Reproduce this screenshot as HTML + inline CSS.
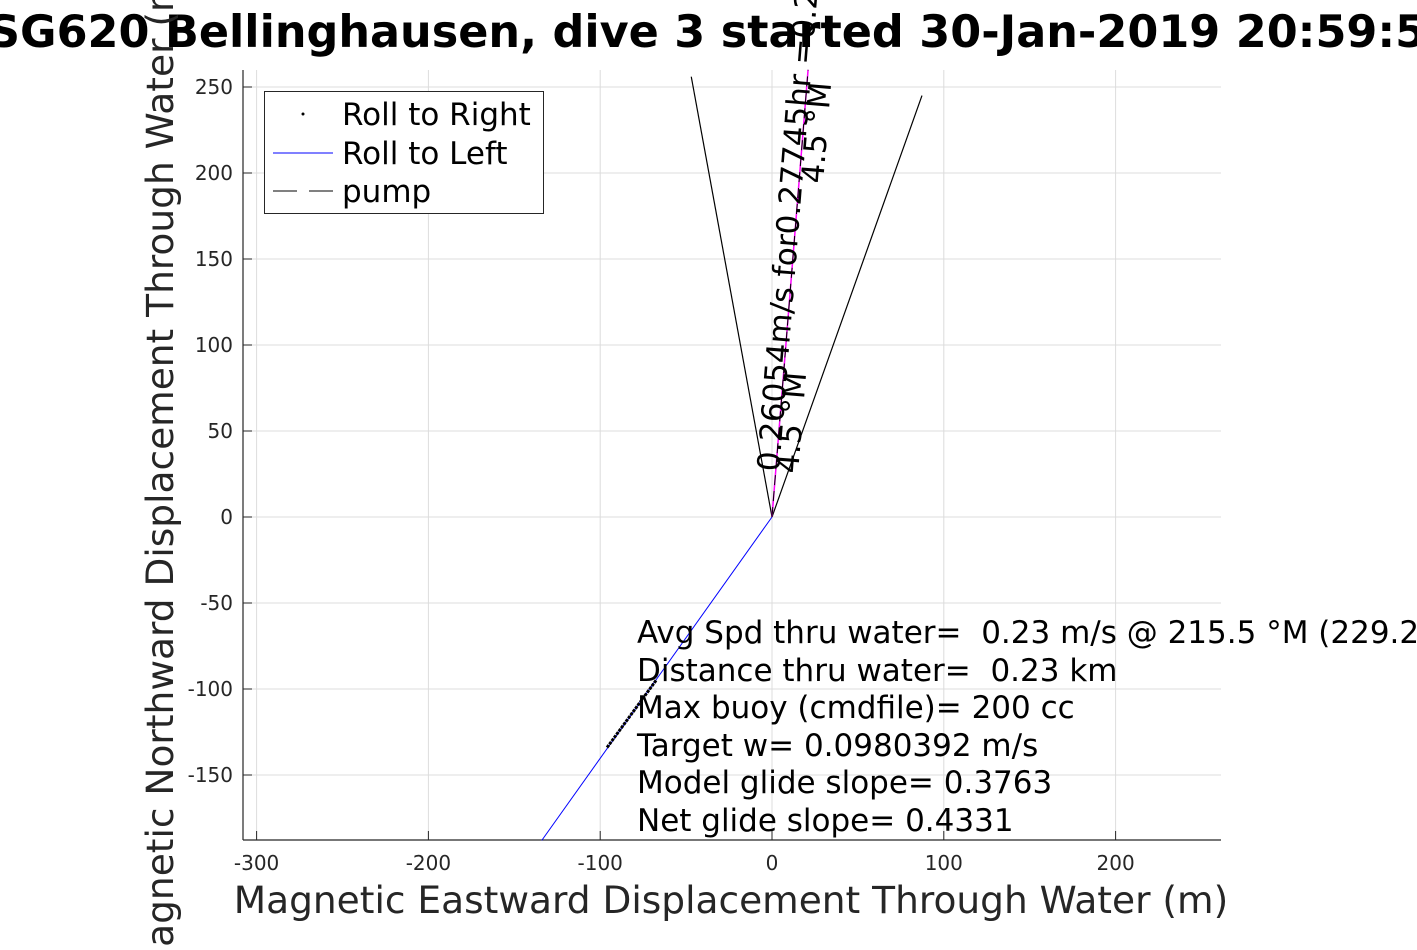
<!DOCTYPE html>
<html><head><meta charset="utf-8"><style>
html,body{margin:0;padding:0;background:#fff;}
svg text{font-family:"DejaVu Sans","Liberation Sans",sans-serif;white-space:pre;}
</style></head><body>
<svg id="chart" width="1417" height="945" xmlns="http://www.w3.org/2000/svg" xml:space="preserve">
<g id="grid"></g>
<g id="axes"></g>
<g id="series"></g>
<text x="-12" y="47" font-size="44.5" font-weight="bold" fill="#000">SG620 Bellinghausen, dive 3 started 30-Jan-2019 20:59:54</text>
<text x="731" y="913" font-size="37.5" text-anchor="middle" fill="#262626">Magnetic Eastward Displacement Through Water (m)</text>
<text transform="translate(173,470) rotate(-90)" font-size="37.5" text-anchor="middle" fill="#262626">Magnetic Northward Displacement Through Water (m)</text>
<g>
<rect x="264.5" y="91.5" width="279" height="122" fill="#fff" stroke="#262626" stroke-width="1"/>
<circle cx="303" cy="114" r="1.5" fill="#000"/>
<text x="342" y="125" font-size="31">Roll to Right</text>
<line x1="273" y1="153" x2="333" y2="153" stroke="#00f" stroke-width="1"/>
<text x="342" y="164" font-size="31">Roll to Left</text>
<line x1="273" y1="191" x2="333" y2="191" stroke="#000" stroke-width="1" stroke-dasharray="24,12"/>
<text x="342" y="202" font-size="31">pump</text>
</g>
<g font-size="31" fill="#000">
<text x="637" y="643">Avg Spd thru water=  0.23 m/s @ 215.5 °M (229.2 °T)</text>
<text x="637" y="681">Distance thru water=  0.23 km</text>
<text x="637" y="718">Max buoy (cmdfile)= 200 cc</text>
<text x="637" y="756">Target w= 0.0980392 m/s</text>
<text x="637" y="793">Model glide slope= 0.3763</text>
<text x="637" y="831">Net glide slope= 0.4331</text>
</g>
<g font-size="31" fill="#000">
<text transform="translate(779,472) rotate(-85.4)">0.26054m/s for0.27745hr =0.2</text>
<text transform="translate(798,474) rotate(-85.4)">4.5 °M</text>
<text transform="translate(823,184) rotate(-85.4)">4.5 °M</text>
</g>
<script>
var xTicks=[-300,-200,-100,0,100,200];
var yTicks=[250,200,150,100,50,0,-50,-100,-150];
var divePathX=[0,-134];
var divePathY=[0,-188];
var rightRollX=[-96,-67.5];
var rightRollY=[-134,-95];
var leftBoundX=[0,-47];
var leftBoundY=[0,256];
var rightBoundX=[0,87.3];
var rightBoundY=[0,245];
var currentX=[0,21];
var currentY=[0,260];
var L=243,R=1221,T=70,B=840;
function sx(v){return 772+v*1.718;}
function sy(v){return 517-v*1.72;}
var NS='http://www.w3.org/2000/svg';
function mk(tag,attrs,parent){var e=document.createElementNS(NS,tag);for(var k in attrs)e.setAttribute(k,attrs[k]);parent.appendChild(e);return e;}
var grid=document.getElementById('grid'),axes=document.getElementById('axes'),ser=document.getElementById('series');
xTicks.forEach(function(t){
 var x=sx(t);
 var g=mk('line',{x1:x,y1:T,x2:x,y2:B,stroke:'#dcdcdc','stroke-width':1},grid);
 
 
 var tk=mk('line',{x1:x,y1:B,x2:x,y2:B-9,stroke:'#262626','stroke-width':1},axes);
 
 
 var tx=mk('text',{x:x,y:B+30,'font-size':20,'text-anchor':'middle',fill:'#262626'},axes);
 tx.textContent=t;
 
 
});
yTicks.forEach(function(t){
 var y=sy(t);
 var g=mk('line',{x1:L,y1:y,x2:R,y2:y,stroke:'#dcdcdc','stroke-width':1},grid);
 
 
 var tk=mk('line',{x1:L,y1:y,x2:L+9,y2:y,stroke:'#262626','stroke-width':1},axes);
 
 
 var tx=mk('text',{x:L-10,y:y+7,'font-size':20,'text-anchor':'end',fill:'#262626'},axes);
 tx.textContent=t;
 
 
});
var ax1=mk('line',{x1:L,y1:T,x2:L,y2:B,stroke:'#262626','stroke-width':1.2},axes);


var ax2=mk('line',{x1:L,y1:B,x2:R,y2:B,stroke:'#262626','stroke-width':1.2},axes);


function line(xs,ys,attrs,name){
 var pts=xs.map(function(v,i){return sx(v)+','+sy(ys[i]);}).join(' ');
 attrs.points=pts;attrs.fill='none';
 var e=mk('polyline',attrs,ser);
 
 
}
line(divePathX,divePathY,{stroke:'#00f','stroke-width':1},'roll-left-line');
line(rightRollX,rightRollY,{stroke:'#000','stroke-width':3,'stroke-dasharray':'3,1'},'roll-right-points');
line(leftBoundX,leftBoundY,{stroke:'#000','stroke-width':1.2},'left-bound-line');
line(rightBoundX,rightBoundY,{stroke:'#000','stroke-width':1.2},'right-bound-line');
line(currentX,currentY,{stroke:'#f0f','stroke-width':1.5},'current-vector');
line(currentX,currentY,{stroke:'#000','stroke-width':1,'stroke-dasharray':'10,6'},'current-vector-dash');
</script>
</svg>
</body></html>
